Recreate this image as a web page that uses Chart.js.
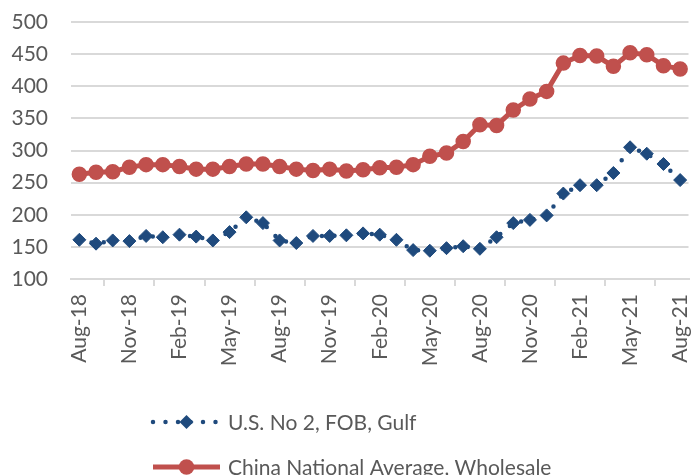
<!DOCTYPE html>
<html>
<head>
<meta charset="utf-8">
<title>Corn prices</title>
<script src="https://cdn.jsdelivr.net/npm/chart.js@4.4.0/dist/chart.umd.min.js"></script>
<style>
  html, body { margin: 0; padding: 0; background: #fff; }
  #wrap { width: 697px; height: 475px; position: relative; }
</style>
</head>
<body>
<div id="wrap"><canvas id="priceChart"></canvas></div>
<script>
// monthly categories, Aug-18 .. Aug-21
const months = [
  'Aug-18', 'Sep-18', 'Oct-18', 'Nov-18', 'Dec-18', 'Jan-19', 'Feb-19', 'Mar-19', 'Apr-19',
  'May-19', 'Jun-19', 'Jul-19', 'Aug-19', 'Sep-19', 'Oct-19', 'Nov-19', 'Dec-19', 'Jan-20',
  'Feb-20', 'Mar-20', 'Apr-20', 'May-20', 'Jun-20', 'Jul-20', 'Aug-20', 'Sep-20', 'Oct-20',
  'Nov-20', 'Dec-20', 'Jan-21', 'Feb-21', 'Mar-21', 'Apr-21', 'May-21', 'Jun-21', 'Jul-21',
  'Aug-21'
];

const usGulf = [
  161, 155, 160, 159, 167, 165, 169, 166, 160, 173, 196, 187, 160, 156, 167, 167, 168,
  171, 169, 161, 145, 144, 148, 151, 147, 165, 187, 192, 199, 233, 246, 246, 265, 305,
  295, 279, 254
];

const chinaWholesale = [
  263, 266, 267, 274, 278, 278, 275, 271, 271, 275, 279, 279, 275, 271, 269, 271, 268,
  270, 273, 274, 278, 291, 296, 314, 340, 339, 363, 380, 392, 436, 448, 447, 431, 452,
  449, 432, 427
];

const seriesNames = ['U.S. No 2, FOB, Gulf', 'China National Average, Wholesale'];

const yMin = 100;
const yMax = 500;
const yStep = 50;

const BLUE = '#1F4A7D';
const RED = '#C0504D';
const TEXT = '#595959';
const GRID = '#D9D9D9';
const FONT = 'Lato, "Open Sans", sans-serif';

// Excel-style legend: line sample with a marker, one entry per row
const lineLegend = {
  id: 'lineLegend',
  afterDraw(chart) {
    const ctx = chart.ctx;
    const x0 = 151, x1 = 222, rowY = [422, 467];
    chart.data.datasets.forEach((ds, i) => {
      const y = rowY[i];
      const mid = (x0 + x1) / 2;
      ctx.save();
      ctx.strokeStyle = ds.borderColor;
      ctx.lineWidth = ds.borderWidth;
      ctx.lineCap = ds.borderCapStyle || 'butt';
      ctx.setLineDash(ds.borderDash || []);
      ctx.beginPath();
      ctx.moveTo(x0 + 2, y);
      ctx.lineTo(x1 - 2, y);
      ctx.stroke();
      ctx.setLineDash([]);
      ctx.fillStyle = ds.pointBackgroundColor;
      ctx.beginPath();
      const r = ds.pointRadius + ds.pointBorderWidth / 2;
      if (ds.pointStyle === 'rectRot') {
        ctx.moveTo(mid - r, y);
        ctx.lineTo(mid, y - r);
        ctx.lineTo(mid + r, y);
        ctx.lineTo(mid, y + r);
        ctx.closePath();
      } else {
        ctx.arc(mid, y, r, 0, Math.PI * 2);
      }
      ctx.fill();
      ctx.fillStyle = TEXT;
      ctx.font = '21px ' + FONT;
      ctx.textBaseline = 'middle';
      ctx.textAlign = 'left';
      ctx.fillText(ds.label, x1 + 6, y + 1);
      ctx.restore();
    });
  }
};

new Chart(document.getElementById('priceChart'), {
  type: 'line',
  data: {
    labels: months,
    datasets: [
      {
        label: seriesNames[0],
        data: usGulf,
        borderColor: BLUE,
        borderWidth: 4.5,
        borderDash: [0, 12.5],
        borderCapStyle: 'round',
        pointStyle: 'rectRot',
        pointRadius: 6.5,
        pointBorderWidth: 1,
        pointBackgroundColor: BLUE,
        pointBorderColor: BLUE,
        tension: 0
      },
      {
        label: seriesNames[1],
        data: chinaWholesale,
        borderColor: RED,
        borderWidth: 5,
        pointStyle: 'circle',
        pointRadius: 7,
        pointBorderWidth: 1.5,
        pointBackgroundColor: RED,
        pointBorderColor: RED,
        tension: 0
      }
    ]
  },
  options: {
    responsive: true,
    maintainAspectRatio: false,
    animation: false,
    layout: { padding: { top: 22, right: 4, bottom: 106, left: 0 } },
    plugins: {
      legend: { display: false },
      tooltip: { enabled: false }
    },
    scales: {
      x: {
        offset: true,
        grid: {
          offset: true,
          drawOnChartArea: false,
          drawTicks: true,
          tickLength: 7,
          color: GRID,
          lineWidth: 2
        },
        border: { display: true, color: GRID, width: 2 },
        ticks: {
          autoSkip: false,
          minRotation: 90,
          maxRotation: 90,
          padding: 8,
          color: TEXT,
          font: { family: FONT, size: 21 },
          callback: function (value, index) {
            return index % 3 === 0 ? this.getLabelForValue(value) : null;
          }
        },
        afterFit(scale) {
          scale.height = 90;
          scale.paddingLeft = 0;
          scale.paddingRight = 0;
        }
      },
      y: {
        min: yMin,
        max: yMax,
        grid: { color: GRID, lineWidth: 2, drawTicks: false },
        border: { display: false },
        ticks: {
          stepSize: yStep,
          padding: 23,
          color: TEXT,
          font: { family: FONT, size: 21 }
        },
        afterFit(scale) {
          scale.width = 71;
          scale.paddingTop = 0;
          scale.paddingBottom = 0;
        }
      }
    }
  },
  plugins: [lineLegend]
});
</script>
</body>
</html>
